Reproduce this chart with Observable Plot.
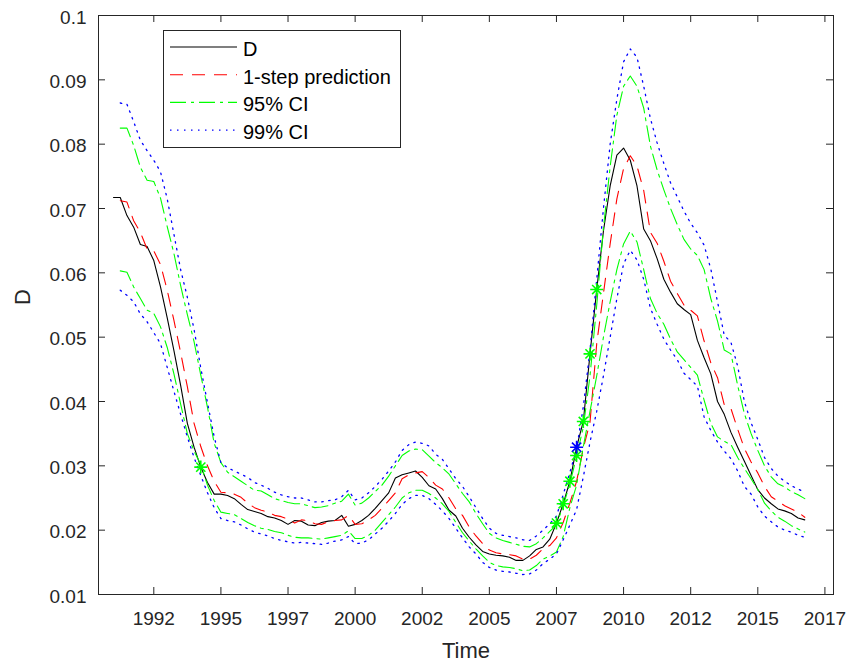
<!DOCTYPE html>
<html>
<head>
<meta charset="utf-8">
<script src="https://cdn.jsdelivr.net/npm/d3@7"></script>
<script src="https://cdn.jsdelivr.net/npm/@observablehq/plot@0.6"></script>
<style>
  html, body { margin: 0; padding: 0; background: #fff; }
  #wrap { position: relative; width: 854px; height: 668px; font-family: "Liberation Sans", Arial, Helvetica, sans-serif; }
  #legend { position: absolute; left: 163px; top: 30px; }
</style>
</head>
<body>
<div id="wrap"><div id="chart"></div><div id="legend"></div></div>
<script>
// ---- data (quarterly) ----
const startD = 1991.0;      // first quarter of D
const startPred = 1991.25;  // first quarter of prediction and bands

const D = [
  0.0717, 0.0717, 0.0689, 0.0671,
  0.0644, 0.0641, 0.0619, 0.0578,
  0.0530, 0.0479, 0.0425, 0.0366,
  0.0329, 0.0298, 0.0274, 0.0256,
  0.0256, 0.0254, 0.0249, 0.0240,
  0.0232, 0.0229, 0.0226, 0.0221,
  0.0219, 0.0215, 0.0209, 0.0215,
  0.0214, 0.0208, 0.0207, 0.0212,
  0.0214, 0.0215, 0.0223, 0.0206,
  0.0209, 0.0215, 0.0223, 0.0234,
  0.0246, 0.0258, 0.0281, 0.0286,
  0.0289, 0.0292, 0.0282, 0.0269,
  0.0264, 0.0249, 0.0231, 0.0222,
  0.0203, 0.0189, 0.0177, 0.0167,
  0.0163, 0.0161, 0.0160, 0.0158,
  0.0153, 0.0153, 0.0160, 0.0170,
  0.0174, 0.0186, 0.0211, 0.0241,
  0.0276, 0.0329, 0.0369, 0.0474,
  0.0574, 0.0665, 0.0735, 0.0783,
  0.0794, 0.0775, 0.0735, 0.0668,
  0.0650, 0.0622, 0.0590, 0.0570,
  0.0552, 0.0543, 0.0535, 0.0495,
  0.0468, 0.0443, 0.0400, 0.0380,
  0.0352, 0.0329, 0.0307, 0.0285,
  0.0263, 0.0250, 0.0241, 0.0233,
  0.0230, 0.0226, 0.0219, 0.0216
];

const pred = [
          0.0712, 0.0710, 0.0681,
  0.0663, 0.0637, 0.0634, 0.0613,
  0.0573, 0.0526, 0.0476, 0.0423,
  0.0366, 0.0330, 0.0300, 0.0276,
  0.0259, 0.0258, 0.0256, 0.0251,
  0.0242, 0.0235, 0.0231, 0.0228,
  0.0223, 0.0221, 0.0217, 0.0211,
  0.0216, 0.0215, 0.0210, 0.0209,
  0.0213, 0.0215, 0.0216, 0.0223,
  0.0209, 0.0210, 0.0216, 0.0223,
  0.0234, 0.0246, 0.0258, 0.0280,
  0.0286, 0.0289, 0.0291, 0.0282,
  0.0270, 0.0264, 0.0250, 0.0233,
  0.0223, 0.0205, 0.0191, 0.0179,
  0.0169, 0.0165, 0.0163, 0.0162,
  0.0160, 0.0155, 0.0155, 0.0161,
  0.0171, 0.0176, 0.0188, 0.0212,
  0.0242, 0.0276, 0.0327, 0.0368,
  0.0490, 0.0568, 0.0645, 0.0715,
  0.0762, 0.0782, 0.0766, 0.0728,
  0.0663, 0.0646, 0.0618, 0.0587,
  0.0568, 0.0550, 0.0542, 0.0533,
  0.0494, 0.0460, 0.0437, 0.0395,
  0.0389, 0.0357, 0.0327, 0.0306,
  0.0289, 0.0268, 0.0252, 0.0245,
  0.0238, 0.0233, 0.0228, 0.0220
];

const ci95Upper = [
          0.0825, 0.0825, 0.0798,
  0.0764, 0.0744, 0.0742, 0.0716,
  0.0672, 0.0630, 0.0580, 0.0535,
  0.0493, 0.0441, 0.0391, 0.0335,
  0.0305, 0.0290, 0.0283, 0.0276,
  0.0269, 0.0262, 0.0261, 0.0255,
  0.0249, 0.0246, 0.0243, 0.0241,
  0.0241, 0.0238, 0.0235, 0.0236,
  0.0238, 0.0242, 0.0245, 0.0256,
  0.0239, 0.0242, 0.0250, 0.0260,
  0.0270, 0.0284, 0.0300, 0.0316,
  0.0323, 0.0326, 0.0325, 0.0315,
  0.0305, 0.0297, 0.0287, 0.0272,
  0.0257, 0.0244, 0.0226, 0.0210,
  0.0195, 0.0188, 0.0184, 0.0181,
  0.0178, 0.0175, 0.0174, 0.0179,
  0.0188, 0.0198, 0.0208, 0.0238,
  0.0272, 0.0315, 0.0360, 0.0440,
  0.0550, 0.0670, 0.0765, 0.0845,
  0.0890, 0.0906, 0.0890, 0.0856,
  0.0797, 0.0760, 0.0729, 0.0700,
  0.0675, 0.0652, 0.0637, 0.0627,
  0.0605, 0.0560, 0.0525, 0.0480,
  0.0474, 0.0425, 0.0381, 0.0350,
  0.0324, 0.0300, 0.0283, 0.0272,
  0.0267, 0.0260, 0.0255, 0.0249
];

const ci95Lower = [
          0.0603, 0.0601, 0.0578,
  0.0560, 0.0542, 0.0537, 0.0516,
  0.0484, 0.0443, 0.0396, 0.0350,
  0.0323, 0.0302, 0.0270, 0.0246,
  0.0228, 0.0226, 0.0224, 0.0218,
  0.0212, 0.0207, 0.0203, 0.0201,
  0.0198, 0.0196, 0.0192, 0.0189,
  0.0188, 0.0188, 0.0187, 0.0186,
  0.0188, 0.0190, 0.0192, 0.0199,
  0.0187, 0.0187, 0.0192, 0.0200,
  0.0212, 0.0224, 0.0236, 0.0250,
  0.0258, 0.0262, 0.0262, 0.0257,
  0.0250, 0.0241, 0.0229, 0.0212,
  0.0196, 0.0183, 0.0171, 0.0160,
  0.0150, 0.0145, 0.0143, 0.0142,
  0.0140, 0.0137, 0.0138, 0.0145,
  0.0155, 0.0160, 0.0166, 0.0190,
  0.0235, 0.0270, 0.0330, 0.0385,
  0.0440, 0.0500, 0.0555, 0.0605,
  0.0645, 0.0665, 0.0648, 0.0605,
  0.0560, 0.0537, 0.0520, 0.0497,
  0.0477, 0.0465, 0.0453, 0.0441,
  0.0402, 0.0366, 0.0345, 0.0338,
  0.0333, 0.0313, 0.0296, 0.0280,
  0.0263, 0.0242, 0.0230, 0.0220,
  0.0214, 0.0207, 0.0202, 0.0197
];

const ci99Upper = [
          0.0864, 0.0862, 0.0835,
  0.0806, 0.0790, 0.0775, 0.0757,
  0.0715, 0.0660, 0.0605, 0.0562,
  0.0512, 0.0452, 0.0398, 0.0345,
  0.0305, 0.0297, 0.0292, 0.0287,
  0.0282, 0.0274, 0.0270, 0.0265,
  0.0259, 0.0255, 0.0252, 0.0250,
  0.0250, 0.0247, 0.0244, 0.0244,
  0.0246, 0.0247, 0.0252, 0.0262,
  0.0247, 0.0250, 0.0258, 0.0268,
  0.0279, 0.0292, 0.0306, 0.0324,
  0.0333, 0.0337, 0.0335, 0.0331,
  0.0318, 0.0310, 0.0295, 0.0280,
  0.0268, 0.0252, 0.0235, 0.0218,
  0.0203, 0.0195, 0.0192, 0.0190,
  0.0188, 0.0185, 0.0184, 0.0191,
  0.0200, 0.0210, 0.0222, 0.0255,
  0.0290, 0.0326, 0.0392, 0.0480,
  0.0590, 0.0700, 0.0800, 0.0870,
  0.0928, 0.0948, 0.0935, 0.0890,
  0.0840, 0.0802, 0.0770, 0.0740,
  0.0718, 0.0696, 0.0677, 0.0662,
  0.0643, 0.0606, 0.0555, 0.0503,
  0.0492, 0.0455, 0.0400, 0.0367,
  0.0341, 0.0313, 0.0296, 0.0284,
  0.0276, 0.0269, 0.0264, 0.0259
];

const ci99Lower = [
          0.0573, 0.0565, 0.0555,
  0.0536, 0.0524, 0.0507, 0.0490,
  0.0453, 0.0416, 0.0380, 0.0345,
  0.0313, 0.0285, 0.0258, 0.0235,
  0.0218, 0.0215, 0.0213, 0.0208,
  0.0202, 0.0197, 0.0194, 0.0191,
  0.0187, 0.0184, 0.0182, 0.0180,
  0.0181, 0.0180, 0.0179, 0.0178,
  0.0180, 0.0183, 0.0185, 0.0190,
  0.0179, 0.0180, 0.0185, 0.0194,
  0.0203, 0.0214, 0.0226, 0.0240,
  0.0249, 0.0254, 0.0254, 0.0249,
  0.0240, 0.0230, 0.0218, 0.0203,
  0.0188, 0.0174, 0.0163, 0.0150,
  0.0142, 0.0138, 0.0136, 0.0135,
  0.0133, 0.0131, 0.0132, 0.0138,
  0.0148, 0.0155, 0.0163, 0.0185,
  0.0208, 0.0232, 0.0283, 0.0337,
  0.0385, 0.0440, 0.0500, 0.0560,
  0.0614, 0.0635, 0.0620, 0.0590,
  0.0545, 0.0520, 0.0497, 0.0480,
  0.0465, 0.0444, 0.0434, 0.0424,
  0.0376, 0.0355, 0.0337, 0.0323,
  0.0311, 0.0292, 0.0268, 0.0256,
  0.0236, 0.0222, 0.0213, 0.0205,
  0.0200, 0.0197, 0.0192, 0.0189
];

// outliers marked with stars
const star95Times  = [1994.25, 2007.5, 2007.75, 2008.0, 2008.25, 2008.5, 2008.75, 2009.0];
const star95Values = [0.0298, 0.0211, 0.0241, 0.0276, 0.0316, 0.0369, 0.0474, 0.0574];
const star99Times  = [2008.25];
const star99Values = [0.0329];

// axis ticks
const xTickValues = [1992.5, 1995, 1997.5, 2000, 2002.5, 2005, 2007.5, 2010, 2012.5, 2015, 2017.5];
const xTickLabels = ["1992", "1995", "1997", "2000", "2002", "2005", "2007", "2010", "2012", "2015", "2017"];
const yTickValues = [0.01, 0.02, 0.03, 0.04, 0.05, 0.06, 0.07, 0.08, 0.09, 0.1];
const yTickLabels = ["0.01", "0.02", "0.03", "0.04", "0.05", "0.06", "0.07", "0.08", "0.09", "0.1"];

const seriesNames = ["D", "1-step prediction", "95% CI", "99% CI"];

// ---- tables ----
const dRows = D.map((v, i) => ({t: startD + i / 4, v}));
const rowsOf = arr => arr.map((v, i) => ({t: startPred + i / 4, v}));
const star95 = star95Times.map((t, i) => ({t, v: star95Values[i]}));
const star99 = star99Times.map((t, i) => ({t, v: star99Values[i]}));

// ---- styles ----
const styles = {
  D:    {stroke: "#000000", strokeWidth: 1.1},
  pred: {stroke: "#ff0000", strokeWidth: 1.1, strokeDasharray: "13,9"},
  ci95: {stroke: "#00ff00", strokeWidth: 1.1, strokeDasharray: "16,5,3,5"},
  ci99: {stroke: "#0000ff", strokeWidth: 1.3, strokeDasharray: "1.5,5.5"}
};

const asterisk8 = {
  draw(context, size) {
    const r = Math.sqrt(size / Math.PI);
    const d = r * Math.SQRT1_2;
    context.moveTo(-r, 0); context.lineTo(r, 0);
    context.moveTo(0, -r); context.lineTo(0, r);
    context.moveTo(-d, -d); context.lineTo(d, d);
    context.moveTo(-d, d); context.lineTo(d, -d);
  }
};

const W = 854, H = 668;
const mL = 98, mR = 21, mT = 15, mB = 74;
const innerW = W - mL - mR, innerH = H - mT - mB;
const tickLen = 7;
const axisColor = "#262626";

const chart = Plot.plot({
  width: W, height: H,
  marginLeft: mL, marginRight: mR, marginTop: mT, marginBottom: mB,
  style: {fontFamily: "'Liberation Sans', Arial, Helvetica, sans-serif", fontSize: "19px", color: axisColor, background: "#fff", overflow: "visible"},
  x: {domain: [1990.44, 2017.82]},
  y: {domain: [0.01, 0.1]},
  marks: [
    // inward ticks on all four sides
    Plot.tickX(xTickValues, {x: d => d, stroke: axisColor, insetTop: innerH - tickLen}),
    Plot.tickX(xTickValues, {x: d => d, stroke: axisColor, insetBottom: innerH - tickLen}),
    Plot.tickY(yTickValues, {y: d => d, stroke: axisColor, insetRight: innerW - tickLen}),
    Plot.tickY(yTickValues, {y: d => d, stroke: axisColor, insetLeft: innerW - tickLen}),
    Plot.axisX({ticks: xTickValues, tickFormat: (d, i) => xTickLabels[i], tickSize: 0, tickPadding: 17, label: null}),
    Plot.axisY({ticks: yTickValues, tickFormat: (d, i) => yTickLabels[i], tickSize: 0, tickPadding: 12, label: null, dy: 2}),
    Plot.text(["Time"], {text: d => d, frameAnchor: "bottom", dy: 63, fontSize: 22, fill: axisColor}),
    Plot.text(["D"], {text: d => d, frameAnchor: "left", dx: -76, rotate: -90, fontSize: 22, fill: axisColor}),
    // series
    Plot.line(dRows, {x: "t", y: "v", ...styles.D}),
    Plot.line(rowsOf(pred), {x: "t", y: "v", ...styles.pred}),
    Plot.line(rowsOf(ci95Upper), {x: "t", y: "v", ...styles.ci95}),
    Plot.line(rowsOf(ci95Lower), {x: "t", y: "v", ...styles.ci95}),
    Plot.line(rowsOf(ci99Upper), {x: "t", y: "v", ...styles.ci99}),
    Plot.line(rowsOf(ci99Lower), {x: "t", y: "v", ...styles.ci99}),
    Plot.dot(star95, {x: "t", y: "v", symbol: asterisk8, r: 6.5, stroke: "#00ff00", strokeWidth: 1.6, fill: "none"}),
    Plot.dot(star99, {x: "t", y: "v", symbol: asterisk8, r: 6.5, stroke: "#0000ff", strokeWidth: 1.6, fill: "none"}),
    Plot.frame({stroke: axisColor, strokeWidth: 1})
  ]
});
document.getElementById("chart").appendChild(chart);

// ---- legend (inside the axes, top-left) ----
const legendStyles = [styles.D, styles.pred, styles.ci95, styles.ci99];
const lgW = 237, lgH = 117, rowY0 = 17, rowStep = 27.7;
const lg = d3.select("#legend").append("svg").attr("width", lgW + 1).attr("height", lgH + 1);
lg.append("rect").attr("x", 0.5).attr("y", 0.5).attr("width", lgW).attr("height", lgH)
  .attr("fill", "#fff").attr("stroke", axisColor).attr("stroke-width", 1);
seriesNames.forEach((name, i) => {
  const y = rowY0 + i * rowStep;
  const s = legendStyles[i];
  lg.append("line").attr("x1", 7).attr("x2", 74).attr("y1", y).attr("y2", y)
    .attr("stroke", s.stroke).attr("stroke-width", s.strokeWidth)
    .attr("stroke-dasharray", s.strokeDasharray || null);
  lg.append("text").attr("x", 80).attr("y", y + 2).attr("dominant-baseline", "central")
    .attr("font-size", 20).attr("fill", "#000")
    .attr("font-family", "'Liberation Sans', Arial, Helvetica, sans-serif").text(name);
});
</script>
</body>
</html>
